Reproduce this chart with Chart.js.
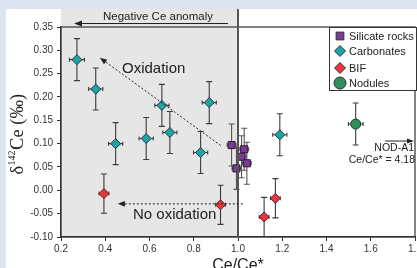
<!DOCTYPE html>
<html>
<head>
<meta charset="utf-8">
<script src="https://cdn.jsdelivr.net/npm/chart.js@4.4.1/dist/chart.umd.min.js"></script>
<style>
  html, body { margin: 0; padding: 0; background: #dce4ef; }
  #wrap { position: relative; width: 417px; height: 268px; }
</style>
</head>
<body>
<div id="wrap"><canvas id="ceChart" width="417" height="268"></canvas></div>
<script>
const xTicks = [0.2, 0.4, 0.6, 0.8, 1.0, 1.2, 1.4, 1.6, 1.8];
const yTicks = [-0.10, -0.05, 0.00, 0.05, 0.10, 0.15, 0.20, 0.25, 0.30, 0.35];

// Ce/Ce* and d142Ce with 2SD error bars
const silicateX = [0.971, 1.028, 1.016, 1.040, 0.993];
const silicateY = [0.097, 0.088, 0.072, 0.058, 0.047];
const silicateXErr = [0.02, 0.02, 0.02, 0.02, 0.02];
const silicateYErr = [0.045, 0.045, 0.045, 0.045, 0.045];

const carbonateX = [0.272, 0.357, 0.447, 0.585, 0.656, 0.692, 0.831, 0.870, 1.189];
const carbonateY = [0.280, 0.217, 0.100, 0.111, 0.182, 0.124, 0.081, 0.188, 0.119];
const carbonateXErr = [0.034, 0.032, 0.032, 0.032, 0.032, 0.032, 0.032, 0.032, 0.032];
const carbonateYErr = [0.045, 0.045, 0.045, 0.045, 0.045, 0.045, 0.045, 0.045, 0.045];

const bifX = [0.394, 0.921, 1.118, 1.169];
const bifY = [-0.007, -0.031, -0.057, -0.017];
const bifXErr = [0.022, 0.022, 0.022, 0.022];
const bifYErr = [0.042, 0.042, 0.042, 0.042];

const noduleX = [1.532];
const noduleY = [0.142];
const noduleXErr = [0.033];
const noduleYErr = [0.045];

const FONT = "'Liberation Sans', Arial, sans-serif";
const SERIF = "'Liberation Serif', 'Times New Roman', serif";

function pts(xs, ys, xe, ye) {
  return xs.map((x, i) => ({ x: x, y: ys[i], xErr: xe[i], yErr: ye[i] }));
}

function arrowHead(ctx, x, y, angle, len, half) {
  ctx.save();
  ctx.translate(x, y);
  ctx.rotate(angle);
  ctx.beginPath();
  ctx.moveTo(0, 0);
  ctx.lineTo(-len, -half);
  ctx.lineTo(-len, half);
  ctx.closePath();
  ctx.fill();
  ctx.restore();
}

// background panel, grey "negative anomaly" field
const backdrop = {
  id: "backdrop",
  beforeDraw(chart) {
    const { ctx, chartArea: a, scales: { x } } = chart;
    ctx.save();
    ctx.fillStyle = "#dce4ef";
    ctx.fillRect(0, 0, chart.width, chart.height);
    ctx.fillStyle = "#ffffff";
    ctx.fillRect(6, 9, chart.width - 6, chart.height - 9);
    const x1 = x.getPixelForValue(1.0);
    ctx.fillStyle = "#e6e6e6";
    ctx.fillRect(a.left, 9, x1 - a.left, a.bottom - 9);
    ctx.restore();
  },
};

const errorBars = {
  id: "errorBars",
  beforeDatasetsDraw(chart) {
    const { ctx, scales: { x, y } } = chart;
    ctx.save();
    ctx.lineWidth = 1.1;
    chart.data.datasets.forEach((ds) => {
      ctx.strokeStyle = ds.errColor;
      ds.data.forEach((p) => {
        const px = x.getPixelForValue(p.x);
        const py = y.getPixelForValue(p.y);
        const xl = x.getPixelForValue(p.x - p.xErr);
        const xr = x.getPixelForValue(p.x + p.xErr);
        const yt = y.getPixelForValue(p.y + p.yErr);
        const yb = y.getPixelForValue(p.y - p.yErr);
        ctx.beginPath();
        ctx.moveTo(px, yt); ctx.lineTo(px, yb);
        ctx.moveTo(px - 3, yt); ctx.lineTo(px + 3, yt);
        ctx.moveTo(px - 3, yb); ctx.lineTo(px + 3, yb);
        ctx.moveTo(xl, py); ctx.lineTo(xr, py);
        ctx.moveTo(xl, py - 2); ctx.lineTo(xl, py + 2);
        ctx.moveTo(xr, py - 2); ctx.lineTo(xr, py + 2);
        ctx.stroke();
      });
    });
    ctx.restore();
  },
};

const annotations = {
  id: "annotations",
  afterDraw(chart) {
    const { ctx, chartArea: a, scales: { x, y } } = chart;
    ctx.save();

    // frame and Ce/Ce* = 1 line
    ctx.strokeStyle = "#333";
    ctx.lineWidth = 1.2;
    ctx.strokeRect(a.left, a.top, a.right - a.left, a.bottom - a.top);
    const x1 = x.getPixelForValue(1.0);
    ctx.strokeStyle = "#555";
    ctx.lineWidth = 2;
    ctx.beginPath();
    ctx.moveTo(x1, 9); ctx.lineTo(x1, a.bottom);
    ctx.stroke();

    // Negative Ce anomaly
    ctx.fillStyle = "#222";
    ctx.strokeStyle = "#222";
    ctx.lineWidth = 1;
    ctx.font = "11.5px " + FONT;
    ctx.textAlign = "center";
    ctx.textBaseline = "alphabetic";
    ctx.fillText("Negative Ce anomaly", 158, 20);
    ctx.beginPath();
    ctx.moveTo(228, 23.5); ctx.lineTo(80, 23.5);
    ctx.stroke();
    arrowHead(ctx, 74, 23.5, Math.PI, 8, 3);

    // oxidation trend
    ctx.setLineDash([2, 2]);
    const ox0 = [x.getPixelForValue(0.922), y.getPixelForValue(0.096)];
    const ox1 = [x.getPixelForValue(0.376), y.getPixelForValue(0.284)];
    const ang = Math.atan2(ox1[1] - ox0[1], ox1[0] - ox0[0]);
    ctx.beginPath();
    ctx.moveTo(ox0[0], ox0[1]);
    ctx.lineTo(ox1[0] - 6 * Math.cos(ang), ox1[1] - 6 * Math.sin(ang));
    ctx.stroke();
    const nx0 = [x.getPixelForValue(1.022), y.getPixelForValue(-0.029)];
    const nx1 = [x.getPixelForValue(0.457), y.getPixelForValue(-0.029)];
    ctx.beginPath();
    ctx.moveTo(nx0[0], nx0[1]);
    ctx.lineTo(nx1[0] + 6, nx1[1]);
    ctx.stroke();
    ctx.setLineDash([]);
    arrowHead(ctx, ox1[0], ox1[1], ang, 7, 2.8);
    arrowHead(ctx, nx1[0], nx1[1], Math.PI, 7, 2.8);

    ctx.font = "15px " + FONT;
    ctx.textAlign = "left";
    ctx.fillText("Oxidation", 122, 73);
    ctx.fillText("No oxidation", 133, 219);

    // NOD-A1 off-scale nodule
    ctx.beginPath();
    ctx.moveTo(385, 141); ctx.lineTo(408, 141);
    ctx.stroke();
    arrowHead(ctx, 414, 141, 0, 7, 2.5);
    ctx.font = "10.5px " + FONT;
    ctx.textAlign = "right";
    ctx.fillText("NOD-A1", 414, 151);
    ctx.fillText("Ce/Ce* = 4.18", 415, 163);

    // legend
    const lx = a.right - 86, ly = a.top, lw = 87, lh = 63;
    ctx.fillStyle = "#fff";
    ctx.fillRect(lx, ly, lw, lh);
    ctx.strokeStyle = "#333";
    ctx.lineWidth = 1;
    ctx.strokeRect(lx + 0.5, ly + 0.5, lw, lh);
    ctx.textAlign = "left";
    ctx.font = "11px " + FONT;
    const rows = [9, 24, 41, 56];
    chart.data.datasets.forEach((ds, i) => {
      const cy = ly + rows[i];
      ctx.fillStyle = ds.backgroundColor;
      ctx.strokeStyle = "#333";
      ctx.lineWidth = 1;
      Chart.helpers.drawPoint(ctx, { pointStyle: ds.pointStyle, radius: ds.legendRadius, borderWidth: 1 }, lx + 11, cy);
      ctx.fillStyle = "#222";
      ctx.fillText(ds.label, lx + 20, cy + 4);
    });

    // axis titles
    ctx.fillStyle = "#222";
    ctx.font = "16px " + FONT;
    ctx.textAlign = "center";
    ctx.fillText("Ce/Ce*", x.getPixelForValue(1.0), 269.5);

    ctx.translate(23, 134);
    ctx.rotate(-Math.PI / 2);
    const parts = [
      ["δ", "18.5px " + SERIF, 0],
      ["142", "10px " + SERIF, -8],
      ["Ce (‰)", "18.5px " + SERIF, 0],
    ];
    let total = 0;
    parts.forEach((p) => { ctx.font = p[1]; total += ctx.measureText(p[0]).width + 0.5; });
    let cx = -total / 2;
    ctx.textAlign = "left";
    parts.forEach((p) => {
      ctx.font = p[1];
      ctx.fillText(p[0], cx, p[2]);
      cx += ctx.measureText(p[0]).width + 0.5;
    });
    ctx.restore();
  },
};

new Chart(document.getElementById("ceChart"), {
  type: "scatter",
  data: {
    datasets: [
      {
        label: "Silicate rocks",
        data: pts(silicateX, silicateY, silicateXErr, silicateYErr),
        pointStyle: "rect",
        pointRadius: 5,
        legendRadius: 5.5,
        backgroundColor: "#7b3a96",
        borderColor: "#2a1a33",
        borderWidth: 1,
        errColor: "#555",
      },
      {
        label: "Carbonates",
        data: pts(carbonateX, carbonateY, carbonateXErr, carbonateYErr),
        pointStyle: "rectRot",
        pointRadius: 5,
        legendRadius: 5.5,
        backgroundColor: "#1fa3a6",
        borderColor: "#1d3a3c",
        borderWidth: 1,
        errColor: "#3a3a3a",
      },
      {
        label: "BIF",
        data: pts(bifX, bifY, bifXErr, bifYErr),
        pointStyle: "rectRot",
        pointRadius: 5,
        legendRadius: 5.5,
        backgroundColor: "#e8363f",
        borderColor: "#5a2024",
        borderWidth: 1,
        errColor: "#3a3a3a",
      },
      {
        label: "Nodules",
        data: pts(noduleX, noduleY, noduleXErr, noduleYErr),
        pointStyle: "circle",
        pointRadius: 5,
        legendRadius: 6,
        backgroundColor: "#2f8f58",
        borderColor: "#1d3d2a",
        borderWidth: 1,
        errColor: "#3a3a3a",
      },
    ],
  },
  options: {
    responsive: false,
    animation: false,
    devicePixelRatio: 1,
    layout: { autoPadding: false, padding: { top: 27, right: 2, left: 0, bottom: 0 } },
    plugins: {
      legend: { display: false },
      tooltip: { enabled: false },
    },
    scales: {
      x: {
        type: "linear",
        min: 0.2,
        max: 1.8,
        afterBuildTicks: (s) => { s.ticks = xTicks.map((v) => ({ value: v })); },
        afterFit: (s) => { s.height = 31; s.paddingLeft = 0; s.paddingRight = 0; },
        ticks: {
          font: { family: FONT, size: 10 },
          color: "#333",
          padding: 2,
          maxRotation: 0,
          callback: (v) => Number(v).toFixed(1),
        },
        grid: { drawOnChartArea: false, drawTicks: true, tickLength: 4, color: "#333" },
        border: { color: "#333", width: 1.2 },
      },
      y: {
        type: "linear",
        min: -0.1,
        max: 0.35,
        afterBuildTicks: (s) => { s.ticks = yTicks.map((v) => ({ value: v })); },
        afterFit: (s) => { s.width = 61; s.paddingTop = 0; s.paddingBottom = 0; },
        ticks: {
          font: { family: FONT, size: 10 },
          color: "#333",
          padding: 4,
          callback: (v) => Number(v).toFixed(2),
        },
        grid: { drawOnChartArea: false, drawTicks: true, tickLength: 4, color: "#333" },
        border: { color: "#333", width: 1.2 },
      },
    },
  },
  plugins: [backdrop, errorBars, annotations],
});
</script>
</body>
</html>
